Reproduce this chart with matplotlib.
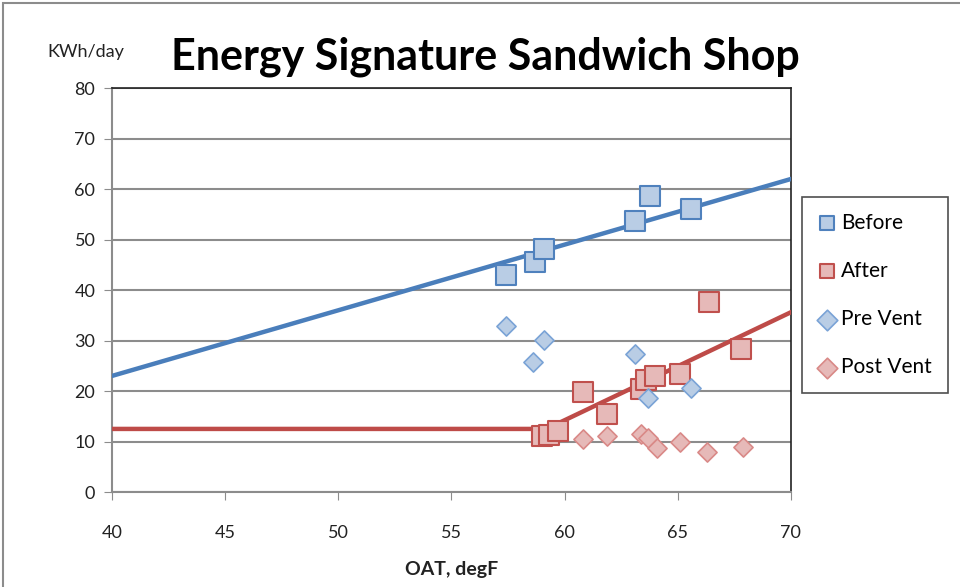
import numpy as np
import matplotlib.pyplot as plt
from matplotlib.patches import Rectangle

plt.rcParams['font.family'] = ['Lato', 'DejaVu Sans']

# ---- data ----
before_x = [57.4, 58.7, 59.1, 63.1, 63.8, 65.6]
before_y = [43.0, 45.6, 48.1, 53.6, 58.6, 56.0]

after_x = [59.0, 59.3, 59.7, 60.8, 61.9, 63.4, 63.6, 64.0, 65.1, 66.4, 67.8]
after_y = [11.0, 11.3, 12.0, 19.8, 15.5, 20.5, 22.2, 23.0, 23.4, 37.7, 28.4]

prevent_x = [57.4, 58.6, 59.1, 63.1, 63.7, 65.6]
prevent_y = [32.8, 25.8, 30.2, 27.4, 18.7, 20.7]

postvent_x = [60.8, 61.9, 63.4, 63.7, 64.1, 65.1, 66.3, 67.9]
postvent_y = [10.5, 11.1, 11.4, 10.8, 8.8, 10.0, 8.0, 8.9]

# fitted lines (end points)
before_fit_x = [40, 70]
before_fit_y = [23.0, 62.0]
after_fit_x = [40, 59.2, 70]
after_fit_y = [12.5, 12.5, 35.6]

blue_edge = '#4f81bd'
blue_face = '#b9cde5'
red_edge = '#c0504d'
red_face = '#e6b9b8'

fig = plt.figure(figsize=(9.6, 5.87), dpi=100)
ax = fig.add_axes([0.1167, 0.1618, 0.707, 0.688])

# outer chart border
fig.patches.append(Rectangle((0.003, -0.05), 1.2, 1.045, transform=fig.transFigure,
                             fill=False, edgecolor='#8c8c8c', linewidth=1.5))

ax.plot(before_fit_x, before_fit_y, color='#4a7ebb', lw=3.2, zorder=3)
ax.plot(after_fit_x, after_fit_y, color='#be4b48', lw=3.2, zorder=3)

ax.scatter(before_x, before_y, marker='s', s=190, facecolor=blue_face,
           edgecolor=blue_edge, linewidth=1.5, zorder=4, label='Before')
ax.scatter(after_x, after_y, marker='s', s=190, facecolor=red_face,
           edgecolor=red_edge, linewidth=1.5, zorder=4, label='After')
ax.scatter(prevent_x, prevent_y, marker='D', s=95, facecolor=blue_face,
           edgecolor='#7aa3d6', linewidth=1.2, zorder=4, label='Pre Vent')
ax.scatter(postvent_x, postvent_y, marker='D', s=95, facecolor=red_face,
           edgecolor='#d98987', linewidth=1.2, zorder=4, label='Post Vent')

ax.set_xlim(40, 70)
ax.set_ylim(0, 80)
ax.set_xticks(np.arange(40, 71, 5))
ax.set_yticks(np.arange(0, 81, 10))
ax.grid(axis='y', color='#8c8c8c', lw=1.5)
ax.set_axisbelow(True)
ax.tick_params(direction='out', length=6, color='#8c8c8c', labelsize=13,
               labelcolor='#222222', pad=6)
ax.tick_params(axis='x', pad=18)
for side in ['top', 'right']:
    ax.spines[side].set_color('#222222')
    ax.spines[side].set_linewidth(1.2)
for side in ['left', 'bottom']:
    ax.spines[side].set_color('#8c8c8c')
    ax.spines[side].set_linewidth(1.5)

ax.set_xlabel('OAT, degF', fontsize=14, fontweight='bold', color='#222222', labelpad=14)
fig.text(0.089, 0.912, 'KWh/day', fontsize=13, color='#222222', ha='center', va='center')
fig.text(0.506, 0.903, 'Energy Signature Sandwich Shop', fontsize=31, fontweight='bold',
         color='black', ha='center', va='center')

leg = ax.legend(loc='upper left', bbox_to_anchor=(1.016, 0.73), frameon=True, fancybox=False,
                edgecolor='#222222', fontsize=15, labelspacing=1.35, handletextpad=0.25,
                handlelength=0.9, borderpad=0.75, borderaxespad=0)
leg.get_frame().set_linewidth(1.2)
for h in leg.legend_handles:
    h.set_sizes([110])

fig.savefig('out.png', dpi=100)
